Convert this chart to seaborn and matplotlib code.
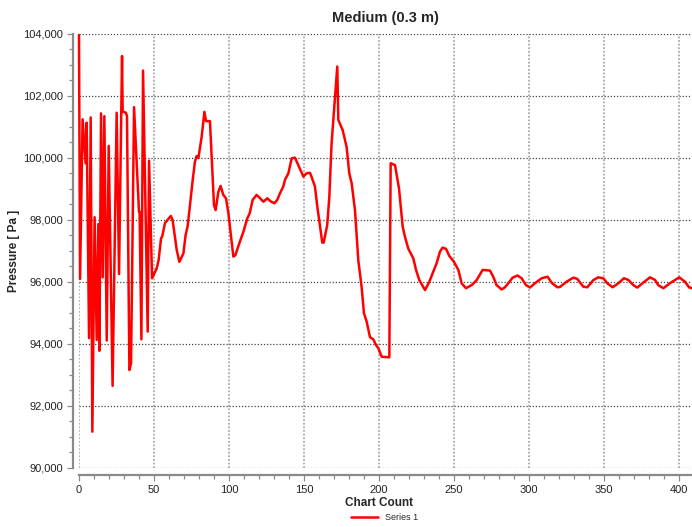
import pandas as pd
import seaborn as sns
import matplotlib.pyplot as plt
from matplotlib.ticker import MultipleLocator, FuncFormatter

# values
chart_count = [0, 0.7, 2.4, 4.4, 5.1, 6.7, 7.8, 8.9, 10.4, 11.8, 12.9, 13.6, 14.7, 15.8, 16.9,
               18.5, 19.8, 22.4, 25.1, 26.7, 28.7, 29.1, 31.3, 32.0, 33.6, 34.7, 36.7, 40.0,
               40.4, 41.6, 42.7, 45.8, 46.7, 48.7, 50.7, 51.8, 53.1, 54.7, 55.5, 57.3, 59.2,
               61.2, 62.4, 65.1, 66.9, 69.6, 71.1, 72.4, 74.0, 75.8, 77.3, 78.4, 79.6, 81.8,
               83.6, 84.7, 87.3, 90.0, 91.1, 92.9, 94.4, 96.2, 98.0, 99.6, 102.9, 104.2, 106.9,
               109.6, 112.2, 113.8, 115.8, 118.4, 120.2, 122.9, 125.6, 127.8, 130.3, 132.2,
               134.0, 136.2, 137.3, 139.6, 141.8, 144.0, 146.2, 149.6, 151.8, 154.0, 155.0,
               157.3, 158.9, 160.7, 162.2, 163.1, 165.5, 166.9, 168.4, 170.7, 172.2, 172.9,
               175.8, 178.4, 180.2, 181.8, 184.0, 186.2, 188.4, 190.0, 191.8, 194.0, 196.2,
               198.0, 199.6, 201.8, 206.9, 207.8, 210.7, 213.4, 215.8, 217.3, 219.6, 222.9,
               224.7, 226.9, 230.7, 233.6, 234.7, 238.4, 240.7, 242.4, 244.7, 246.9, 250.0,
               252.9, 255.1, 258.0, 261.8, 265.1, 269.1, 274.0, 276.2, 278.4, 281.8, 284.0,
               286.2, 289.1, 292.4, 295.1, 298.0, 300.7, 304.0, 308.4, 312.4, 315.1, 318.9,
               320.7, 325.1, 329.6, 332.2, 336.2, 338.9, 342.9, 346.2, 349.6, 352.2, 355.8,
               359.6, 363.3, 366.2, 369.6, 372.2, 376.2, 380.7, 384.0, 386.2, 389.6, 394.0,
               400.2, 404.0, 406.7, 408.7]
pressure = [103970, 96100, 101250, 99830, 101140, 94190, 101310, 91170, 98090, 94130, 97870,
            93780, 101440, 96150, 101350, 94110, 100390, 92650, 101460, 96260, 103290, 101500,
            101460, 101350, 93160, 93380, 101640, 98270, 98270, 94150, 102820, 94400, 99910,
            96120, 96330, 96440, 96710, 97410, 97470, 97900, 98010, 98130, 98000, 97050, 96650,
            96920, 97520, 97790, 98480, 99290, 99880, 100060, 100000, 100690, 101490, 101190,
            101190, 98480, 98320, 98910, 99100, 98810, 98700, 98220, 96820, 96860, 97250, 97620,
            98050, 98220, 98650, 98810, 98730, 98590, 98700, 98600, 98540, 98650, 98860, 99080,
            99290, 99510, 99990, 100010, 99770, 99400, 99510, 99520, 99400, 99080, 98430, 97790,
            97270, 97270, 97840, 98750, 100470, 101980, 102950, 101230, 100900, 100360, 99510,
            99180, 98320, 96710, 95850, 94990, 94720, 94220, 94150, 93970, 93860, 93590, 93570,
            99830, 99770, 99000, 97790, 97460, 97070, 96760, 96390, 96060, 95740, 96010, 96150,
            96600, 96980, 97110, 97070, 96840, 96650, 96390, 95960, 95800, 95900, 96060, 96390,
            96370, 96170, 95900, 95760, 95830, 95960, 96140, 96210, 96120, 95900, 95820, 95960,
            96120, 96170, 95980, 95830, 95840, 96010, 96140, 96100, 95850, 95830, 96060, 96150,
            96120, 95960, 95830, 95960, 96120, 96070, 95900, 95820, 95980, 96150, 96070, 95900,
            95800, 95960, 96150, 96010, 95830, 95800]

df = pd.DataFrame({'Chart Count': chart_count, 'Pressure': pressure})

sns.set_style('white')
plt.rcParams['font.family'] = ['Liberation Sans', 'DejaVu Sans']

fig = plt.figure(figsize=(6.92, 5.27), dpi=100)
ax = fig.add_axes([79 / 692, 1 - 468 / 527, 613 / 692, 434 / 527])

sns.lineplot(data=df, x='Chart Count', y='Pressure', ax=ax, color='#ff0000', lw=1.8,
             estimator=None, sort=False, label='Series 1', legend=False)
for ln in ax.lines:
    ln.set_clip_on(False)

ax.set_xlim(0, 408.7)
ax.set_ylim(90000, 104000)
ax.xaxis.set_major_locator(MultipleLocator(50))
ax.xaxis.set_minor_locator(MultipleLocator(10))
ax.yaxis.set_major_locator(MultipleLocator(2000))
ax.yaxis.set_minor_locator(MultipleLocator(500))
ax.yaxis.set_major_formatter(FuncFormatter(lambda v, p: f'{v:,.0f}'))

ax.set_axisbelow(True)
ax.grid(axis='y', which='major', linestyle=(0, (1, 1.5)), color='#444444', lw=0.9)
ax.grid(axis='x', which='major', linestyle=(0, (1, 1)), color='#aaaaaa', lw=1.3)

for side in ['top', 'right']:
    ax.spines[side].set_visible(False)
ax.spines['left'].set_position(('outward', 4.5))
ax.spines['bottom'].set_position(('outward', 5))
for side in ['left', 'bottom']:
    ax.spines[side].set_color('#8a8a8a')
    ax.spines[side].set_linewidth(1.6)

ax.tick_params(which='major', direction='out', length=4.5, width=0.9, color='#8a8a8a',
               labelsize=8, labelcolor='#222222', pad=2.5, left=True, bottom=True)
ax.tick_params(which='minor', direction='out', length=3, width=0.9, color='#8a8a8a',
               left=True, bottom=True)

ax.set_title('Medium (0.3 m)', fontweight='bold', fontsize=10.5, pad=8.5)
ax.set_xlabel('Chart Count', fontweight='bold', fontsize=8.5)
ax.set_ylabel('Pressure [ Pa ]', fontweight='bold', fontsize=8.5)
ax.xaxis.set_label_coords(0.4886, -0.066)
ax.yaxis.set_label_coords(-0.096, 0.5)

handles, labels = ax.get_legend_handles_labels()
fig.legend(handles, labels, loc='center', bbox_to_anchor=(384.5 / 692, 1 - 518 / 527),
           frameon=False, fontsize=6.5, handlelength=3, handletextpad=0.8)

fig.savefig('out.png', dpi=100)
